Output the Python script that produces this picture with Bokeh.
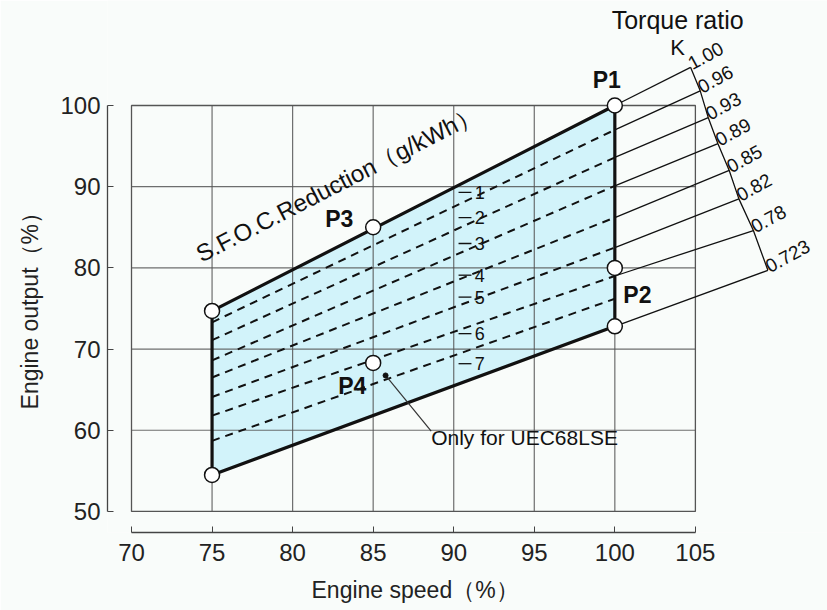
import math
from bokeh.plotting import figure
from bokeh.models import Range1d, FixedTicker, Label
from bokeh.core.properties import value
from bokeh.embed import file_html
from bokeh.resources import INLINE

# ---- axes ----
x_ticks = [70, 75, 80, 85, 90, 95, 100, 105]
y_ticks = [50, 60, 70, 80, 90, 100]
grid_x = [75, 80, 85, 90, 95, 100]
grid_y = [60, 70, 80, 90]

# ---- operating region (engine speed %, engine output %) ----
region_speed = [75, 75, 100, 100]
region_output = [54.5, 74.7, 100, 72.8]

# ---- marked points ----
pt_speed = [75, 75, 85, 85, 100, 100, 100]
pt_output = [54.5, 74.7, 85, 68.3, 100, 80, 72.8]

pt_names = ["P1", "P2", "P3", "P4"]
pt_label_x = [99.5, 101.4, 82.9, 83.7]
pt_label_y = [103.1, 76.7, 86.0, 65.5]

# ---- S.F.O.C. reduction lines ----
sfoc_levels = ["1", "2", "3", "4", "5", "6", "7"]
sfoc_y_at75 = [73.3, 71.1, 68.6, 66.5, 64.1, 61.8, 58.7]
sfoc_y_at100 = [97.0, 93.6, 90.1, 86.2, 82.5, 79.0, 76.2]
sfoc_label_y = [89.3, 86.2, 83.0, 79.1, 76.4, 71.9, 68.2]

# ---- torque ratio lines ----
torque_ratio = ["1.00", "0.96", "0.93", "0.89", "0.85", "0.82", "0.78", "0.723"]
torque_start_y = [100.0, 97.0, 93.6, 90.1, 86.2, 82.5, 79.0, 72.8]
torque_end_x = [104.7, 105.3, 105.8, 106.4, 107.1, 107.7, 108.6, 109.5]
torque_end_y = [104.7, 101.8, 98.5, 95.3, 92.0, 88.5, 84.6, 79.7]

BG = "#f9fcfa"
FILL = "#d2f3fa"
INK = "#111111"
FONT = "Liberation Sans"

p = figure(width=827, height=610,
           x_range=Range1d(68.51, 113.2), y_range=Range1d(47.41, 112.93),
           output_backend="svg", toolbar_location=None,
           min_border_left=107, min_border_right=0,
           min_border_top=0, min_border_bottom=78)
p.xgrid.visible = False
p.ygrid.visible = False
p.outline_line_color = None
p.background_fill_color = BG
p.border_fill_color = BG

for ax, ticks in ((p.xaxis, x_ticks), (p.yaxis, y_ticks)):
    ax.ticker = FixedTicker(ticks=ticks)
    ax.bounds = (ticks[0], ticks[-1])
    ax.major_tick_in = 6
    ax.major_tick_out = 0
    ax.minor_tick_line_color = None
    ax.axis_line_color = "#444444"
    ax.major_tick_line_color = "#444444"
    ax.axis_line_width = 1.3
    ax.major_label_text_font = FONT
    ax.major_label_text_font_size = "24px"
    ax.major_label_text_color = "#222222"

p.xaxis.major_label_standoff = 11
p.yaxis.major_label_standoff = 7

# filled region
p.patch(region_speed, region_output, fill_color=FILL, line_color=None)

# grid frame and grid lines
p.segment(x0=grid_x, y0=[y_ticks[0]] * len(grid_x), x1=grid_x, y1=[y_ticks[-1]] * len(grid_x),
          line_color="#555555", line_width=1.2, line_alpha=0.85)
p.segment(x0=[x_ticks[0]] * len(grid_y), y0=grid_y, x1=[x_ticks[-1]] * len(grid_y), y1=grid_y,
          line_color="#555555", line_width=1.2, line_alpha=0.85)
p.quad(left=x_ticks[0], right=x_ticks[-1], bottom=y_ticks[0], top=y_ticks[-1],
       fill_color=None, line_color="#555555", line_width=1.3)

# S.F.O.C. dashed lines
n = len(sfoc_levels)
p.segment(x0=[region_speed[0]] * n, y0=sfoc_y_at75, x1=[region_speed[-1]] * n, y1=sfoc_y_at100,
          line_color=INK, line_width=2, line_dash="8 6")

# level ticks and numbers at 90 %
p.segment(x0=[90.3] * n, y0=sfoc_label_y, x1=[91.1] * n, y1=sfoc_label_y,
          line_color=INK, line_width=1.3)
p.text(x=[91.3] * n, y=sfoc_label_y, text=sfoc_levels, text_font=value(FONT),
       text_font_size="18px", text_align="left", text_baseline="middle", text_color=INK)

# region outline
p.patch(region_speed, region_output, fill_color=None, line_color=INK, line_width=3.2)

# torque ratio lines and bracket
m = len(torque_ratio)
p.segment(x0=[region_speed[-1]] * m, y0=torque_start_y, x1=torque_end_x, y1=torque_end_y,
          line_color=INK, line_width=1.3)
p.line(torque_end_x, torque_end_y, line_color=INK, line_width=1.3)
p.text(x=torque_end_x, y=torque_end_y, text=torque_ratio, angle=0.5,
       text_font=value(FONT), text_font_size="19px", text_align="left",
       text_baseline="bottom", x_offset=2, y_offset=3, text_color=INK)

# points
p.scatter(pt_speed, pt_output, size=15, fill_color="white", line_color=INK, line_width=1.5)
p.text(x=pt_label_x, y=pt_label_y, text=pt_names, text_font=value(FONT),
       text_font_size="23px", text_font_style="bold", text_align="center",
       text_baseline="middle", text_color=INK)

# annotation for P4
p.segment(x0=[85.77], y0=[66.75], x1=[88.6], y1=[59.9], line_color="#333333", line_width=1.2)
p.scatter([85.77], [66.75], size=5, color=INK)
p.add_layout(Label(x=88.6, y=59.1, text="Only for UEC68LSE", text_font=FONT,
                   text_font_size="21px", text_align="left", text_baseline="middle",
                   text_color=INK))

# texts
p.add_layout(Label(x=82.8, y=90.4, text="S.F.O.C.Reduction（g/kWh）", angle=0.473,
                   text_font=FONT, text_font_size="24px", text_align="center",
                   text_baseline="middle", text_color=INK))
p.add_layout(Label(x=103.9, y=110.5, text="Torque ratio", text_font=FONT,
                   text_font_size="25px", text_align="center", text_baseline="middle",
                   text_color=INK))
p.add_layout(Label(x=103.9, y=107.1, text="K", text_font=FONT,
                   text_font_size="22px", text_align="center", text_baseline="middle",
                   text_color=INK))

# axis titles (placed in the side panels)
p.add_layout(Label(x=87.6, y=40.3, text="Engine speed（%）", text_font=FONT,
                   text_font_size="23px", text_align="center", text_baseline="middle",
                   text_color="#222222"), "below")
p.add_layout(Label(x=63.7, y=75.4, text="Engine output（%）", angle=math.pi / 2,
                   text_font=FONT, text_font_size="23px", text_align="center",
                   text_baseline="middle", text_color="#222222"), "left")

open("out.html", "w").write(file_html(p, INLINE))
